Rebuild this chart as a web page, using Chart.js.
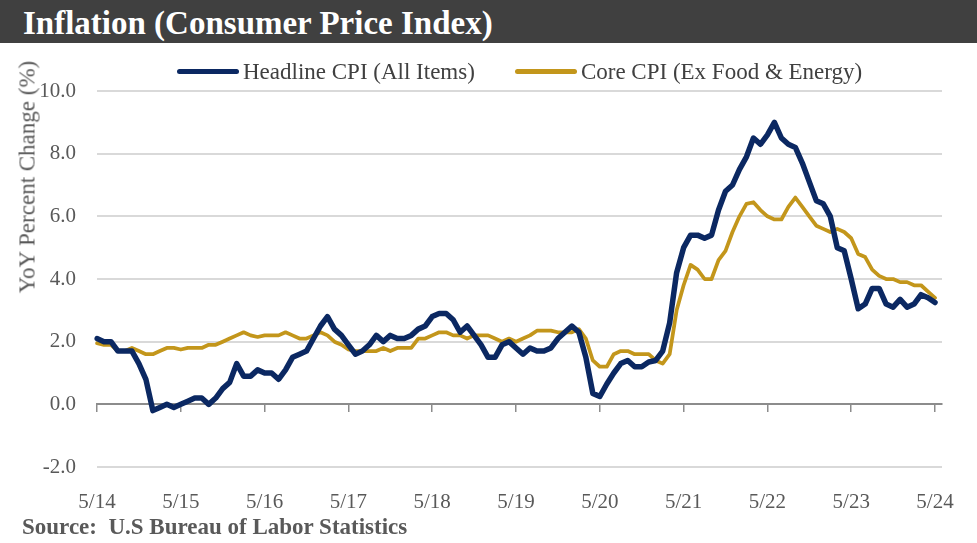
<!DOCTYPE html>
<html>
<head>
<meta charset="utf-8">
<title>Inflation (Consumer Price Index)</title>
<script src="https://cdn.jsdelivr.net/npm/chart.js@4.4.1/dist/chart.umd.min.js"></script>
<style>
  html, body { margin: 0; padding: 0; background: #fff; }
  body { width: 977px; height: 543px; position: relative; overflow: hidden; font-family: 'Liberation Serif', 'Times New Roman', serif; }
  #chartBox { position: absolute; left: 0; top: 0; width: 977px; height: 543px; }
  #titleBar { position: absolute; left: 0; top: 0; width: 977px; height: 43px; background: #404040; }
  #titleBar span { position: absolute; left: 23px; top: 7px; font-size: 33px; font-weight: bold; color: #fff; line-height: 1; white-space: nowrap; }
  #legend { position: absolute; left: 177px; top: 60px; display: flex; align-items: center; font-size: 23px; line-height: 1; color: #404040; white-space: nowrap; }
  #legend .item { display: flex; align-items: center; margin-right: 40px; }
  #legend .swatch { width: 62px; height: 5px; border-radius: 3px; margin-right: 4px; }
  #yTitle { position: absolute; left: 27px; top: 177px; transform: translate(-50%, -50%) rotate(-90deg); font-size: 23px; color: #595959; white-space: nowrap; line-height: 1; }
  #source { position: absolute; left: 22px; top: 515px; font-size: 23px; font-weight: bold; color: #595959; line-height: 1; white-space: nowrap; }
</style>
</head>
<body>
<div id="chartBox"><canvas id="myChart" width="977" height="543"></canvas></div>
<div id="titleBar"><span>Inflation (Consumer Price Index)</span></div>
<div id="legend"></div>
<div id="yTitle">YoY Percent Change (%)</div>
<div id="source">Source:&nbsp; U.S Bureau of Labor Statistics</div>

<script>
// monthly axis, 5/14 .. 6/24
var startYear = 2014, startMonth = 5, monthCount = 122;
var tickLabels = ['5/14', '5/15', '5/16', '5/17', '5/18', '5/19', '5/20', '5/21', '5/22', '5/23', '5/24'];

// YoY % change, May 2014 .. May 2024
var headline = [
    2.1, 2.0, 2.0, 1.7, 1.7, 1.7, 1.3, 0.8,
    -0.2, -0.1, 0.0, -0.1, 0.0, 0.1, 0.2, 0.2, 0.0, 0.2, 0.5, 0.7,
    1.3, 0.9, 0.9, 1.1, 1.0, 1.0, 0.8, 1.1, 1.5, 1.6, 1.7, 2.1,
    2.5, 2.8, 2.4, 2.2, 1.9, 1.6, 1.7, 1.9, 2.2, 2.0, 2.2, 2.1,
    2.1, 2.2, 2.4, 2.5, 2.8, 2.9, 2.9, 2.7, 2.3, 2.5, 2.2, 1.9,
    1.5, 1.5, 1.9, 2.0, 1.8, 1.6, 1.8, 1.7, 1.7, 1.8, 2.1, 2.3,
    2.5, 2.3, 1.5, 0.35, 0.25, 0.65, 1.0, 1.3, 1.4, 1.2, 1.2, 1.35,
    1.4, 1.7, 2.6, 4.2, 5.0, 5.4, 5.4, 5.3, 5.4, 6.2, 6.8, 7.0,
    7.5, 7.9, 8.5, 8.3, 8.6, 9.0, 8.5, 8.3, 8.2, 7.7, 7.1, 6.5,
    6.4, 6.0, 5.0, 4.9, 4.0, 3.05, 3.2, 3.7, 3.7, 3.2, 3.1, 3.35,
    3.1, 3.2, 3.5, 3.4, 3.25
];
var core = [
    1.95, 1.9, 1.9, 1.7, 1.7, 1.8, 1.7, 1.6,
    1.6, 1.7, 1.8, 1.8, 1.75, 1.8, 1.8, 1.8, 1.9, 1.9, 2.0, 2.1,
    2.2, 2.3, 2.2, 2.15, 2.2, 2.2, 2.2, 2.3, 2.2, 2.1, 2.1, 2.2,
    2.3, 2.2, 2.0, 1.9, 1.75, 1.7, 1.7, 1.7, 1.7, 1.8, 1.7, 1.8,
    1.8, 1.8, 2.1, 2.1, 2.2, 2.3, 2.3, 2.2, 2.2, 2.1, 2.2, 2.2,
    2.2, 2.1, 2.0, 2.1, 2.0, 2.1, 2.2, 2.35, 2.35, 2.35, 2.3, 2.3,
    2.3, 2.4, 2.1, 1.4, 1.2, 1.2, 1.6, 1.7, 1.7, 1.6, 1.6, 1.6,
    1.4, 1.3, 1.6, 3.0, 3.8, 4.45, 4.3, 4.0, 4.0, 4.6, 4.9, 5.5,
    6.0, 6.4, 6.45, 6.2, 6.0, 5.9, 5.9, 6.3, 6.6, 6.3, 6.0, 5.7,
    5.6, 5.5, 5.6, 5.5, 5.3, 4.8, 4.7, 4.3, 4.1, 4.0, 4.0, 3.9,
    3.9, 3.8, 3.8, 3.6, 3.4
];

var yTicks = { min: -2, max: 10, step: 2 };

var months = [];
for (var i = 0; i < monthCount; i++) {
    var m = (startMonth - 1 + i) % 12 + 1;
    var yr = startYear + Math.floor((startMonth - 1 + i) / 12);
    months.push(m + '/' + String(yr % 100).padStart(2, '0'));
}

var serif = "'Liberation Serif', 'Times New Roman', serif";
var navy = '#0b2862';
var gold = '#c3961b';

var config = {
    type: 'line',
    data: {
        labels: months,
        datasets: [
            {
                label: 'Headline CPI (All Items)',
                data: headline,
                borderColor: navy,
                backgroundColor: navy,
                borderWidth: 5.5,
                pointRadius: 0,
                tension: 0,
                borderJoinStyle: 'round',
                borderCapStyle: 'round'
            },
            {
                label: 'Core CPI (Ex Food & Energy)',
                data: core,
                borderColor: gold,
                backgroundColor: gold,
                borderWidth: 3.75,
                pointRadius: 0,
                tension: 0,
                borderJoinStyle: 'round',
                borderCapStyle: 'round'
            }
        ]
    },
    options: {
        responsive: false,
        animation: false,
        devicePixelRatio: 1,
        layout: { padding: { top: 91, right: 35, left: 0, bottom: 0 } },
        plugins: {
            legend: { display: false },
            tooltip: { enabled: false }
        },
        scales: {
            x: {
                type: 'category',
                position: 'bottom',
                grid: { display: false },
                border: { display: false },
                ticks: {
                    autoSkip: false,
                    maxRotation: 0,
                    padding: 15,
                    color: '#595959',
                    font: { family: serif, size: 21 },
                    callback: function (v) {
                        var l = this.getLabelForValue(v);
                        return tickLabels.indexOf(l) >= 0 ? l : '';
                    }
                },
                afterFit: function (s) { s.height = 76; }
            },
            // axis line at zero with the yearly tick marks
            x0: {
                type: 'category',
                position: { y: 0 },
                ticks: { display: false },
                grid: {
                    drawOnChartArea: false,
                    drawTicks: true,
                    tickLength: 7,
                    lineWidth: 1.5,
                    color: function (ctx) {
                        var l = months[ctx.index];
                        return tickLabels.indexOf(l) >= 0 ? '#8c8c8c' : 'rgba(0,0,0,0)';
                    }
                },
                border: { display: true, color: '#8c8c8c', width: 2 }
            },
            y: {
                min: yTicks.min,
                max: yTicks.max,
                ticks: {
                    stepSize: yTicks.step,
                    padding: 21,
                    color: '#595959',
                    font: { family: serif, size: 21 },
                    callback: function (v) { return v.toFixed(1); }
                },
                grid: { color: '#d9d9d9', lineWidth: 2, drawTicks: false },
                border: { display: false },
                afterFit: function (s) { s.width = 97; }
            }
        }
    }
};

var chart = new Chart(document.getElementById('myChart'), config);

// html legend built from the datasets
var legendEl = document.getElementById('legend');
chart.data.datasets.forEach(function (ds) {
    var item = document.createElement('div');
    item.className = 'item';
    var sw = document.createElement('span');
    sw.className = 'swatch';
    sw.style.background = ds.borderColor;
    var txt = document.createElement('span');
    txt.textContent = ds.label;
    item.appendChild(sw);
    item.appendChild(txt);
    legendEl.appendChild(item);
});
</script>
</body>
</html>
